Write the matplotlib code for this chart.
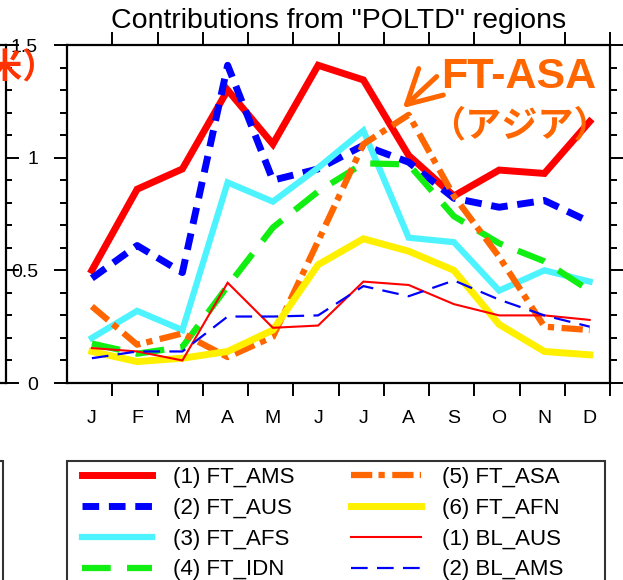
import numpy as np
import matplotlib.pyplot as plt
from matplotlib.patches import Rectangle
from matplotlib.ticker import FixedLocator, MultipleLocator

plt.rcParams['font.family'] = ['Liberation Sans', 'DejaVu Sans']

# monthly contributions from each source region
months = ['J', 'F', 'M', 'A', 'M', 'J', 'J', 'A', 'S', 'O', 'N', 'D']
ft_ams = [0.50, 0.86, 0.95, 1.30, 1.06, 1.41, 1.345, 1.01, 0.83, 0.945, 0.93, 1.16]
ft_aus = [0.465, 0.61, 0.49, 1.41, 0.90, 0.95, 1.055, 0.98, 0.82, 0.78, 0.81, 0.715]
ft_afs = [0.20, 0.32, 0.235, 0.89, 0.805, 0.955, 1.12, 0.645, 0.625, 0.41, 0.50, 0.45]
ft_idn = [0.175, 0.13, 0.16, 0.43, 0.69, 0.85, 0.975, 0.97, 0.74, 0.62, 0.54, 0.41]
ft_asa = [0.34, 0.17, 0.22, 0.115, 0.205, 0.63, 1.06, 1.19, 0.83, 0.56, 0.25, 0.235]
ft_afn = [0.14, 0.095, 0.11, 0.14, 0.235, 0.525, 0.64, 0.585, 0.50, 0.26, 0.14, 0.125]
bl_aus = [0.155, 0.14, 0.10, 0.445, 0.245, 0.255, 0.45, 0.435, 0.35, 0.30, 0.30, 0.28]
bl_ams = [0.11, 0.14, 0.14, 0.295, 0.295, 0.30, 0.43, 0.385, 0.455, 0.37, 0.30, 0.25]

W, H = 623, 580
fig = plt.figure(figsize=(W / 100, H / 100), dpi=100)


def fx(px):
    return px / W


def fy(py):
    return 1 - py / H


ax = fig.add_axes([fx(67), fy(383), fx(610) - fx(67), fy(45) - fy(383)])
x = np.arange(1, 13)

series = [
    (ft_ams, '(1) FT_AMS', dict(color='#ff0000', lw=5)),
    (ft_aus, '(2) FT_AUS', dict(color='#0000ff', lw=5, ls=(0, (2.4, 1.4)))),
    (ft_afs, '(3) FT_AFS', dict(color='#4df4ff', lw=4.5)),
    (ft_idn, '(4) FT_IDN', dict(color='#11ee11', lw=4.5, ls=(0, (4.6, 2.6)))),
    (ft_asa, '(5) FT_ASA', dict(color='#ff6600', lw=4.5, ls=(0, (3.4, 1.0, 1.0, 1.2)))),
    (ft_afn, '(6) FT_AFN', dict(color='#fff000', lw=5)),
    (bl_aus, '(1) BL_AUS', dict(color='#ff0000', lw=1.5)),
    (bl_ams, '(2) BL_AMS', dict(color='#0000ff', lw=1.6, ls=(0, (7.5, 4.2)))),
]
handles = []
for vals, lab, kw in series:
    ln, = ax.plot(x, vals, label=lab, solid_joinstyle='miter', **kw)
    handles.append(ln)

ax.set_xlim(0.45, 12.45)
ax.set_ylim(0, 1.5)
ax.set_xticks(x)
ax.set_xticklabels(months)
ax.xaxis.set_minor_locator(FixedLocator(x + 0.45))
ax.set_yticks([0, 0.5, 1, 1.5])
ax.set_yticklabels(['0', '0.5', '1', '1.5'])
ax.yaxis.set_minor_locator(MultipleLocator(0.1))

for s in ax.spines.values():
    s.set_linewidth(1.6)
ax.tick_params(axis='x', which='major', length=0, pad=19.5, labelsize=14)
ax.tick_params(axis='x', which='minor', direction='out', length=9.4, width=1.4,
               top=True, bottom=True)
ax.tick_params(axis='y', which='major', direction='out', length=9.4, width=1.4,
               left=True, right=True, pad=11.5, labelsize=14)
ax.tick_params(axis='y', which='minor', direction='out', length=5, width=1.4,
               left=True, right=True)
ax.set_title('Contributions from "POLTD" regions', fontsize=20.5, pad=12)

# label and arrow for the Asian free-troposphere source
orange = '#ff6600'
ax.annotate('', xy=(7.87, 1.22), xytext=(8.62, 1.36),
            arrowprops=dict(arrowstyle='->, head_length=1.2, head_width=0.65',
                            mutation_scale=20, lw=3.6, color=orange,
                            shrinkA=0, shrinkB=0))
fig.text(fx(441), fy(88), 'FT-ASA', color=orange, fontsize=31,
         fontweight='bold', ha='left', va='baseline')
fig.text(fx(519), fy(126), '（アジア）', color=orange, fontsize=26,
         fontweight='bold', ha='center', va='center',
         family=['Noto Sans CJK JP', 'DejaVu Sans'])

# edge of the neighbouring panel
nb = fig.add_axes([fx(-300), fy(383), fx(6) - fx(-300), fy(45) - fy(383)])
nb.set_ylim(0, 1.5)
nb.set_xticks([])
nb.set_yticks([0, 0.5, 1, 1.5])
nb.yaxis.set_minor_locator(MultipleLocator(0.1))
nb.yaxis.tick_right()
nb.tick_params(axis='y', which='major', direction='out', length=9, width=1.4,
               labelright=False)
nb.tick_params(axis='y', which='minor', direction='out', length=4, width=1.4)
for s in nb.spines.values():
    s.set_linewidth(1.6)
nb.patch.set_alpha(0)
fig.text(fx(57), fy(68), '（南米）', color='#ff3300', fontsize=25,
         fontweight='bold', ha='right', va='center',
         family=['Noto Sans CJK JP', 'DejaVu Sans'])
fig.patches.append(Rectangle((fx(-200), fy(700)), fx(203), fy(461) - fy(700),
                             transform=fig.transFigure, fill=False,
                             lw=1.5, ec='#333333'))

# legend below the axes
fig.patches.append(Rectangle((fx(67), fy(700)), fx(605) - fx(67), fy(461) - fy(700),
                             transform=fig.transFigure, fill=False,
                             lw=1.5, ec='#333333'))
fig.legend(handles=handles, ncol=2, loc='upper left',
           bbox_to_anchor=(fx(82), fy(467)), frameon=False, fontsize=16,
           borderpad=0, borderaxespad=0, handlelength=3.15, handletextpad=0.95,
           columnspacing=2.55, labelspacing=0.44)

fig.savefig('out.png', dpi=100)
